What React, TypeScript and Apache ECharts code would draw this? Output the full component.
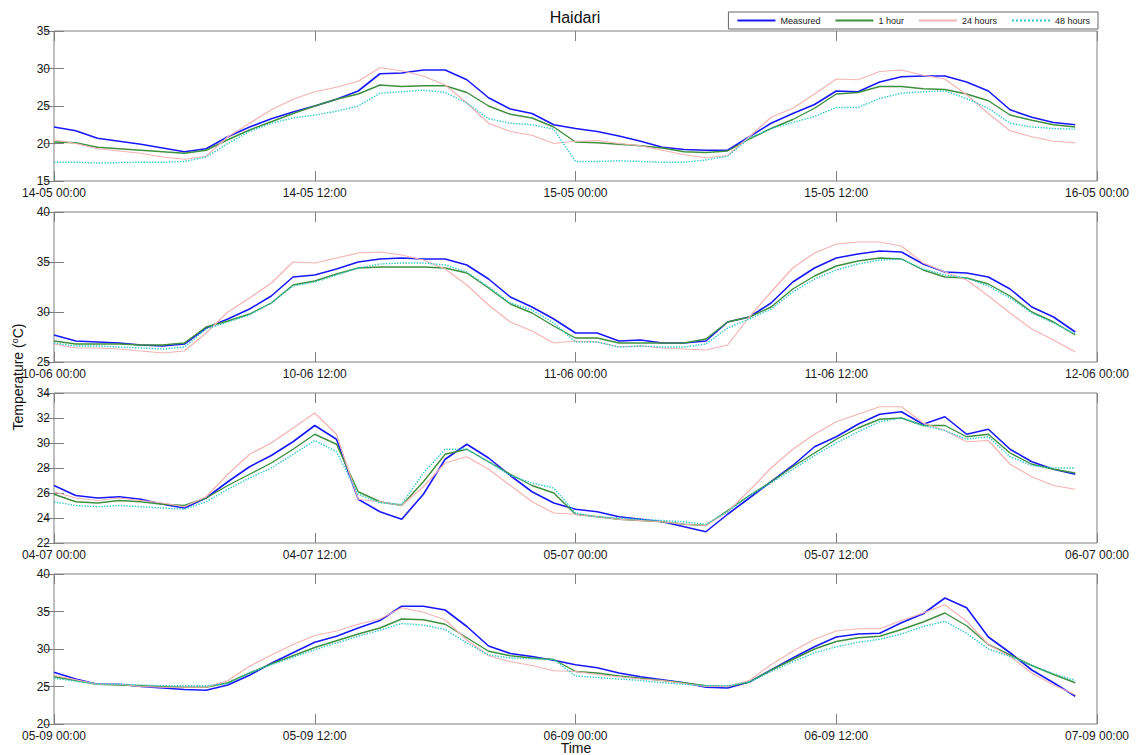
import React, { useEffect, useRef } from "react";
import * as echarts from "echarts";

// ---------- data (hourly values, 48 per panel) ----------
const SERIES_NAMES = ["Measured", "1 hour", "24 hours", "48 hours"];

const ticksP1 = ["14-05 00:00", "14-05 12:00", "15-05 00:00", "15-05 12:00", "16-05 00:00"];
const ticksP2 = ["10-06 00:00", "10-06 12:00", "11-06 00:00", "11-06 12:00", "12-06 00:00"];
const ticksP3 = ["04-07 00:00", "04-07 12:00", "05-07 00:00", "05-07 12:00", "06-07 00:00"];
const ticksP4 = ["05-09 00:00", "05-09 12:00", "06-09 00:00", "06-09 12:00", "07-09 00:00"];

const measuredP1 = [22.2, 21.7, 20.7, 20.3, 19.9, 19.4, 18.9, 19.3, 20.9, 22.2, 23.3, 24.2, 25.0, 25.9, 27.0, 29.3, 29.4, 29.8, 29.8, 28.5, 26.1, 24.6, 24.0, 22.5,
  22.0, 21.6, 21.0, 20.3, 19.5, 19.2, 19.1, 19.1, 20.9, 22.7, 24.0, 25.2, 27.0, 26.9, 28.2, 28.9, 29.0, 29.0, 28.2, 27.0, 24.5, 23.5, 22.8, 22.5];
const oneHourP1 = [20.2, 20.1, 19.5, 19.3, 19.1, 18.9, 18.7, 19.1, 20.5, 21.8, 22.9, 24.0, 25.0, 25.9, 26.6, 27.8, 27.6, 27.7, 27.7, 26.8, 25.0, 23.9, 23.4, 22.2,
  20.2, 20.1, 19.9, 19.7, 19.4, 18.9, 18.8, 19.0, 20.6, 22.0, 23.2, 24.7, 26.6, 26.8, 27.6, 27.6, 27.3, 27.2, 26.6, 25.7, 23.8, 23.1, 22.5, 22.2];
const day1P1 = [20.5, 20.0, 19.3, 19.0, 18.7, 18.2, 17.9, 18.3, 20.9, 22.7, 24.5, 25.9, 26.9, 27.5, 28.3, 30.1, 29.7, 29.0, 27.8, 25.4, 22.7, 21.6, 21.1, 20.0,
  20.3, 20.4, 20.0, 19.7, 19.1, 18.5, 18.1, 18.4, 20.9, 23.5, 24.7, 26.6, 28.6, 28.5, 29.6, 29.8, 29.1, 28.6, 26.5, 24.0, 21.7, 20.9, 20.3, 20.1];
const day2P1 = [17.5, 17.5, 17.4, 17.45, 17.5, 17.5, 17.6, 18.2, 20.0, 21.6, 22.7, 23.4, 23.8, 24.3, 25.0, 26.7, 26.9, 27.1, 26.8, 25.4, 23.3, 22.7, 22.5, 21.9,
  17.6, 17.6, 17.7, 17.6, 17.5, 17.5, 17.8, 18.3, 20.7, 22.0, 22.8, 23.6, 24.8, 24.8, 26.0, 26.7, 26.9, 27.0, 26.0, 24.7, 22.7, 22.2, 22.0, 21.9];

const measuredP2 = [27.7, 27.1, 27.0, 26.9, 26.7, 26.6, 26.8, 28.4, 29.3, 30.3, 31.6, 33.5, 33.7, 34.3, 35.0, 35.3, 35.4, 35.3, 35.3, 34.7, 33.3, 31.5, 30.5, 29.3,
  27.9, 27.9, 27.1, 27.2, 26.9, 26.9, 27.1, 29.0, 29.5, 30.9, 33.0, 34.4, 35.4, 35.8, 36.1, 36.0, 34.8, 34.0, 33.9, 33.5, 32.3, 30.5, 29.5, 28.0];
const oneHourP2 = [27.1, 26.8, 26.8, 26.8, 26.7, 26.7, 26.9, 28.5, 29.1, 29.8, 30.9, 32.7, 33.1, 33.8, 34.4, 34.5, 34.5, 34.5, 34.4, 33.9, 32.4, 30.8, 29.9, 28.6,
  27.4, 27.4, 26.9, 26.9, 26.9, 26.9, 27.3, 29.0, 29.5, 30.5, 32.3, 33.6, 34.6, 35.1, 35.4, 35.3, 34.2, 33.5, 33.4, 32.8, 31.6, 30.0, 29.0, 27.7];
const day1P2 = [26.8, 26.4, 26.4, 26.3, 26.1, 25.9, 26.1, 27.9, 30.0, 31.4, 32.9, 35.0, 34.9, 35.4, 35.9, 36.0, 35.7, 35.2, 34.3, 32.7, 30.7, 29.0, 28.1, 26.9,
  27.1, 27.0, 26.5, 26.6, 26.4, 26.3, 26.2, 26.7, 29.5, 32.0, 34.4, 35.9, 36.8, 37.0, 37.0, 36.6, 34.9, 34.0, 33.2, 31.6, 29.9, 28.3, 27.2, 26.0];
const day2P2 = [26.9, 26.6, 26.6, 26.5, 26.4, 26.3, 26.5, 28.3, 29.0, 29.7, 30.9, 32.6, 33.0, 33.7, 34.4, 34.8, 34.9, 34.9, 34.7, 34.0, 32.5, 30.9, 30.2, 28.9,
  27.0, 27.0, 26.5, 26.6, 26.5, 26.5, 26.8, 28.4, 29.3, 30.3, 32.0, 33.3, 34.2, 34.8, 35.2, 35.3, 34.3, 33.7, 33.4, 32.6, 31.4, 29.9, 28.9, 27.8];

const measuredP3 = [26.6, 25.8, 25.6, 25.7, 25.5, 25.1, 24.8, 25.6, 26.9, 28.1, 29.0, 30.1, 31.4, 30.3, 25.5, 24.5, 23.9, 25.9, 28.7, 29.9, 28.8, 27.4, 26.1, 25.2,
  24.7, 24.5, 24.1, 23.9, 23.7, 23.3, 22.9, 24.3, 25.6, 26.9, 28.2, 29.7, 30.5, 31.5, 32.3, 32.5, 31.5, 32.1, 30.7, 31.1, 29.5, 28.5, 27.9, 27.5];
const oneHourP3 = [25.9, 25.3, 25.2, 25.4, 25.3, 25.1, 25.0, 25.6, 26.6, 27.5, 28.4, 29.5, 30.7, 29.9, 26.1, 25.3, 25.0, 26.9, 29.1, 29.5, 28.5, 27.5, 26.6, 26.0,
  24.3, 24.1, 23.9, 23.8, 23.7, 23.5, 23.4, 24.6, 25.8, 26.9, 28.1, 29.2, 30.3, 31.2, 31.9, 32.0, 31.4, 31.4, 30.5, 30.7, 29.2, 28.3, 27.9, 27.6];
const day1P3 = [26.1, 25.6, 25.4, 25.6, 25.4, 25.2, 24.9, 25.7, 27.5, 29.1, 30.0, 31.2, 32.4, 30.7, 25.5, 25.3, 25.0, 26.5, 28.4, 28.9, 27.9, 26.6, 25.3, 24.4,
  24.3, 24.1, 23.9, 23.8, 23.7, 23.5, 23.4, 24.5, 26.2, 28.0, 29.5, 30.7, 31.7, 32.3, 32.9, 32.9, 31.6, 31.0, 30.1, 30.2, 28.3, 27.3, 26.6, 26.3];
const day2P3 = [25.3, 25.0, 24.9, 25.0, 24.9, 24.8, 24.7, 25.3, 26.3, 27.2, 28.0, 29.1, 30.2, 29.3, 25.9, 25.2, 25.1, 27.6, 29.5, 29.5, 28.5, 27.4, 26.8, 26.4,
  24.4, 24.1, 24.0, 23.9, 23.8, 23.7, 23.5, 24.5, 25.8, 26.8, 27.9, 29.0, 30.0, 30.9, 31.7, 32.0, 31.4, 31.0, 30.3, 30.5, 28.9, 28.2, 28.0, 28.0];

const measuredP4 = [26.9, 26.0, 25.3, 25.3, 25.0, 24.8, 24.6, 24.5, 25.2, 26.5, 28.1, 29.5, 30.9, 31.7, 32.8, 33.8, 35.7, 35.7, 35.2, 33.0, 30.4, 29.4, 29.0, 28.5,
  27.9, 27.5, 26.8, 26.3, 25.9, 25.5, 24.9, 24.8, 25.6, 27.2, 28.8, 30.3, 31.6, 32.0, 32.1, 33.5, 34.7, 36.8, 35.5, 31.6, 29.5, 27.2, 25.5, 23.7];
const oneHourP4 = [26.3, 25.8, 25.3, 25.2, 25.1, 25.0, 24.9, 24.9, 25.5, 26.8, 28.0, 29.1, 30.2, 31.1, 32.0, 32.8, 34.0, 33.9, 33.3, 31.5, 29.7, 29.1, 28.8, 28.6,
  27.0, 26.8, 26.4, 26.1, 25.8, 25.5, 25.1, 25.0, 25.6, 27.2, 28.6, 30.0, 31.0, 31.5, 31.7, 32.6, 33.6, 34.8, 33.1, 30.6, 29.2, 27.8, 26.6, 25.5];
const day1P4 = [26.5, 25.9, 25.3, 25.3, 25.0, 24.9, 24.9, 24.9, 25.8, 27.7, 29.2, 30.6, 31.8, 32.4, 33.3, 34.0, 35.5, 34.9, 33.9, 31.2, 29.1, 28.3, 27.8, 27.1,
  27.0, 26.6, 26.3, 26.0, 25.8, 25.4, 25.0, 25.0, 25.8, 27.9, 29.7, 31.3, 32.4, 32.7, 32.7, 33.8, 34.8, 35.9, 33.7, 30.6, 29.0, 26.8, 25.2, 23.9];
const day2P4 = [26.1, 25.7, 25.3, 25.3, 25.2, 25.1, 25.1, 25.1, 25.4, 26.8, 27.9, 28.9, 29.9, 30.8, 31.7, 32.5, 33.4, 33.2, 32.6, 30.8, 29.2, 28.8, 28.7, 28.6,
  26.4, 26.2, 26.0, 25.8, 25.5, 25.3, 25.1, 25.1, 25.6, 27.0, 28.3, 29.5, 30.3, 30.9, 31.3, 32.0, 33.0, 33.7, 32.1, 30.0, 29.0, 27.8, 26.7, 25.8];

const yMinP = [15, 25, 22, 20];
const yMaxP = [35, 40, 34, 40];
const yStepP = [5, 5, 2, 5];

// ---------- layout / style ----------
const FONT = '"Liberation Sans", Arial, Helvetica, sans-serif';
const AXIS_COLOR = "#808080";
const LABEL_COLOR = "#1a1a1a";
const GRID_LEFT = 54;
const GRID_WIDTH = 1043;
const GRID_TOPS = [31, 212, 393, 574];
const GRID_HEIGHT = 150;

const LINE_STYLES = [
  { color: "#1818ff", width: 1.6, type: "solid" },
  { color: "#3f8f3f", width: 1.4, type: "solid" },
  { color: "#f4b3b3", width: 1.2, type: "solid" },
  { color: "#30c8c8", width: 1.4, type: "dotted" },
];

export default function App() {
  const ref = useRef<HTMLDivElement>(null);

  useEffect(() => {
    if (!ref.current) return;
    const chart = echarts.init(ref.current, null, { renderer: "svg" });

    const panelTicks = [ticksP1, ticksP2, ticksP3, ticksP4];
    const panelData = [
      [measuredP1, oneHourP1, day1P1, day2P1],
      [measuredP2, oneHourP2, day1P2, day2P2],
      [measuredP3, oneHourP3, day1P3, day2P3],
      [measuredP4, oneHourP4, day1P4, day2P4],
    ];

    const grids: any[] = [];
    const xAxes: any[] = [];
    const yAxes: any[] = [];
    const series: any[] = [];

    const tickCfg = { show: true, inside: true, length: 10, lineStyle: { color: AXIS_COLOR, width: 1 } };

    panelData.forEach((sets, i) => {
      grids.push({
        left: GRID_LEFT,
        width: GRID_WIDTH,
        top: GRID_TOPS[i],
        height: GRID_HEIGHT,
        show: true,
        borderColor: AXIS_COLOR,
        borderWidth: 1,
        backgroundColor: "transparent",
      });
      const labels = panelTicks[i];
      xAxes.push({
        type: "value",
        gridIndex: i,
        position: "bottom",
        min: 0,
        max: 48,
        interval: 12,
        axisLine: { show: false },
        axisTick: tickCfg,
        splitLine: { show: false },
        axisLabel: {
          margin: 6,
          lineHeight: 11,
          color: LABEL_COLOR,
          fontSize: 12,
          fontFamily: FONT,
          formatter: (v: number) => labels[Math.round(v / 12)] ?? "",
        },
      });
      xAxes.push({
        type: "value",
        gridIndex: i,
        position: "top",
        min: 0,
        max: 48,
        interval: 12,
        axisLine: { show: false },
        axisTick: tickCfg,
        splitLine: { show: false },
        axisLabel: { show: false },
      });
      yAxes.push({
        type: "value",
        gridIndex: i,
        position: "left",
        min: yMinP[i],
        max: yMaxP[i],
        interval: yStepP[i],
        axisLine: { show: false },
        axisTick: tickCfg,
        splitLine: { show: false },
        axisLabel: { margin: 4, lineHeight: 8, color: LABEL_COLOR, fontSize: 12, fontFamily: FONT },
      });
      yAxes.push({
        type: "value",
        gridIndex: i,
        position: "right",
        min: yMinP[i],
        max: yMaxP[i],
        interval: yStepP[i],
        axisLine: { show: false },
        axisTick: tickCfg,
        splitLine: { show: false },
        axisLabel: { show: false },
      });
      sets.forEach((vals, k) => {
        series.push({
          type: "line",
          name: SERIES_NAMES[k],
          xAxisIndex: 2 * i,
          yAxisIndex: 2 * i,
          symbol: "none",
          showSymbol: false,
          silent: true,
          lineStyle: { ...LINE_STYLES[k] },
          itemStyle: { color: LINE_STYLES[k].color },
          data: vals.map((v, h) => [h, v]),
        });
      });
    });

    chart.setOption({
      animation: false,
      backgroundColor: "#ffffff",
      textStyle: { fontFamily: FONT },
      grid: grids,
      xAxis: xAxes,
      yAxis: yAxes,
      series,
      legend: {
        data: SERIES_NAMES,
        right: 41,
        top: 12,
        orient: "horizontal",
        backgroundColor: "#ffffff",
        borderColor: "#666666",
        borderWidth: 1,
        borderRadius: 0,
        padding: [4, 8, 4, 8],
        itemWidth: 38,
        itemHeight: 10,
        itemGap: 14,
        selectedMode: false,
        z: 10,
        itemStyle: { opacity: 0 },
        textStyle: { fontSize: 9, color: LABEL_COLOR, fontFamily: FONT },
      },
      graphic: [
        {
          type: "text",
          x: 575,
          y: 17,
          style: {
            text: "Haidari",
            align: "center",
            verticalAlign: "middle",
            fontSize: 16,
            fontFamily: FONT,
            fill: "#111111",
          },
        },
        {
          type: "text",
          x: 576,
          y: 748,
          style: {
            text: "Time",
            align: "center",
            verticalAlign: "middle",
            fontSize: 14,
            fontFamily: FONT,
            fill: "#111111",
          },
        },
        {
          type: "text",
          x: 18,
          y: 377,
          rotation: Math.PI / 2,
          style: {
            text: "{a|Temperature (}{b|o}{a|C)}",
            align: "center",
            verticalAlign: "middle",
            fontFamily: FONT,
            fill: "#111111",
            rich: {
              a: { fontSize: 14, fontFamily: FONT, fill: "#111111", color: "#111111" },
              b: { fontSize: 9, fontFamily: FONT, verticalAlign: "top", fill: "#111111", color: "#111111", padding: [0, 0, 6, 0] },
            },
          },
        },
      ],
    });

    return () => chart.dispose();
  }, []);

  return (
    <div
      ref={ref}
      style={{ position: "absolute", left: 0, top: 0, width: 1139, height: 755, background: "#fff" }}
    />
  );
}
